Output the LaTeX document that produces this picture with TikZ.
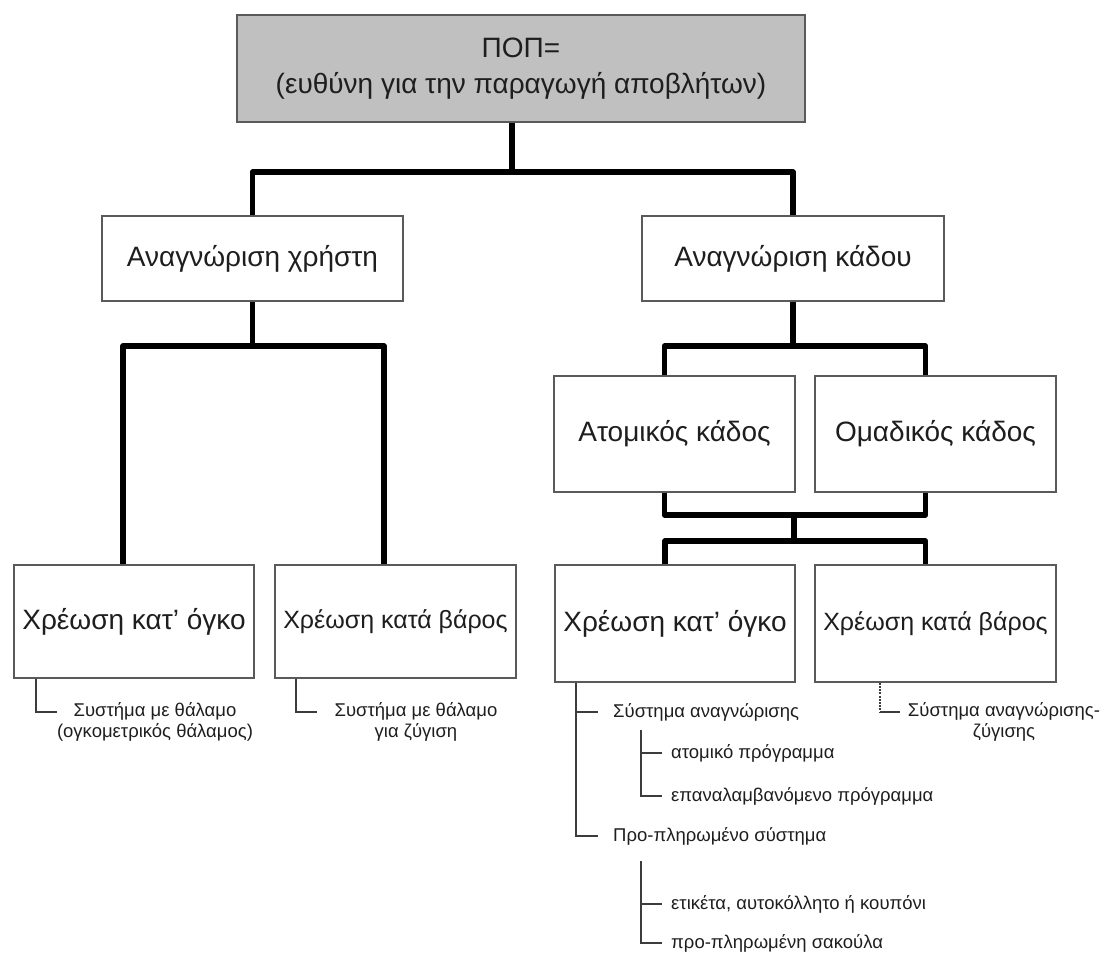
\documentclass[tikz,border=0pt]{standalone}
\usepackage{fontspec}
\setmainfont{Liberation Sans}
\definecolor{boxgray}{HTML}{5A5A5A}
\definecolor{topfill}{HTML}{C0C0C0}
\definecolor{txt}{HTML}{1E1E1E}
\definecolor{lgray}{HTML}{3C3C3C}
\begin{document}
\begin{tikzpicture}[x=1pt,y=-1pt,
  box/.style={draw=boxgray, line width=1.6pt, fill=white, inner sep=0pt, align=center,
    font=\fontsize{28}{36}\selectfont, text=txt},
  smallbox/.style={box, font=\fontsize{25}{30}\selectfont},
  conn/.style={line width=5.5pt, line join=round, black},
  thinline/.style={line width=1.5pt, draw=lgray},
  sub/.style={inner sep=0pt, font=\fontsize{18.5}{21}\selectfont, text=txt, align=center}]
\useasboundingbox (0,0) rectangle (1102,956);

% boxes
\node[box, fill=topfill, minimum width=568, minimum height=107] (top) at (521,68.5)
  {ΠΟΠ=\\(ευθύνη για την παραγωγή αποβλήτων)};
\node[box, minimum width=301, minimum height=85] (L1) at (252.5,258.5) {Αναγνώριση χρήστη};
\node[box, minimum width=302, minimum height=85] (R1) at (793,258.5) {Αναγνώριση κάδου};
\node[box, minimum width=240, minimum height=113] (LB1) at (134,621.5) {Χρέωση κατ’ όγκο};
\node[smallbox, minimum width=241, minimum height=113] (LB2) at (395.5,621.5) {Χρέωση κατά βάρος};
\node[box, minimum width=241, minimum height=116] (R2a) at (674.5,434) {Ατομικός κάδος};
\node[box, minimum width=241, minimum height=116] (R2b) at (935.5,434) {Ομαδικός κάδος};
\node[box, minimum width=240, minimum height=117] (R3a) at (675,623.5) {Χρέωση κατ’ όγκο};
\node[smallbox, minimum width=241, minimum height=117] (R3b) at (935.5,623.5) {Χρέωση κατά βάρος};

% thick connectors
\coordinate (j1) at (512,172);
\draw[conn] (j1 |- top.south) -- (j1);
\draw[conn] (L1.north) |- (j1) -| (R1.north);
\coordinate (j2) at (252.5,346);
\draw[conn] (L1.south) -- (j2);
\draw[conn] ([xshift=-11pt]LB1.north) |- (j2) -| ([xshift=-11.5pt]LB2.north);
\coordinate (j3) at (793,346);
\draw[conn] (R1.south) -- (j3);
\draw[conn] ([xshift=-10pt]R2a.north) |- (j3) -| ([xshift=-10pt]R2b.north);
\coordinate (j4) at (794,515);
\coordinate (j5) at (794,541);
\draw[conn] ([xshift=-10pt]R2a.south) |- (j4) -| ([xshift=-10pt]R2b.south);
\draw[conn] (j4) -- (j5);
\draw[conn] ([xshift=-10pt]R3a.north) |- (j5) -| ([xshift=-10pt]R3b.north);

% left sub items
\node[sub] (s1) at (155,722) {Συστήμα με θάλαμο\\(ογκομετρικός θάλαμος)};
\coordinate (a1) at (36,712);
\draw[thinline] (a1 |- LB1.south) -- (a1) -- ++(21,0);
\node[sub] (s2) at (416,722) {Συστήμα με θάλαμο\\για ζύγιση};
\coordinate (a2) at (296,712);
\draw[thinline] (a2 |- LB2.south) -- (a2) -- ++(21,0);

% right sub items
\node[sub, anchor=west] (t1) at (613,712) {Σύστημα αναγνώρισης};
\node[sub, anchor=west] (t2) at (671,753) {ατομικό πρόγραμμα};
\node[sub, anchor=west] (t3) at (671,796) {επαναλαμβανόμενο πρόγραμμα};
\node[sub, anchor=west] (t4) at (613,836) {Προ-πληρωμένο σύστημα};
\node[sub, anchor=west] (t5) at (671,904) {ετικέτα, αυτοκόλλητο ή κουπόνι};
\node[sub, anchor=west] (t6) at (671,943) {προ-πληρωμένη σακούλα};

\coordinate (b0) at (576,836);
\draw[thinline] (b0 |- R3a.south) -- (b0) -- ([xshift=-15pt]t4.west);
\coordinate (b1) at (576,712);
\draw[thinline] (b1) -- ([xshift=-15pt]t1.west);
\coordinate (c1) at (641,730);
\coordinate (c2) at (641,753);
\coordinate (c3) at (641,796);
\draw[thinline] (c1) -- (c3) -- ([xshift=-9pt]t3.west);
\draw[thinline] (c2) -- ([xshift=-9pt]t2.west);
\coordinate (d1) at (641,861);
\coordinate (d2) at (641,904);
\coordinate (d3) at (641,943);
\draw[thinline] (d1) -- (d3) -- ([xshift=-9pt]t6.west);
\draw[thinline] (d2) -- ([xshift=-9pt]t5.west);

\node[sub] (u1) at (1004,722) {Σύστημα αναγνώρισης-\\ζύγισης};
\coordinate (e1) at (880,712);
\draw[thinline, dash pattern=on 2pt off 1.2pt] (e1 |- R3b.south) -- (e1);
\draw[thinline] (e1) -- ++(20,0);
\end{tikzpicture}
\end{document}
